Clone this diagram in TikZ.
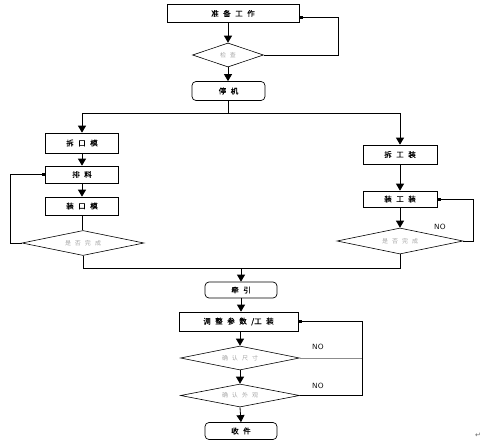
\documentclass[tikz,border=0pt]{standalone}
\usepackage{fontspec}
\newfontfamily\cjk[FakeBold=0.8]{Noto Sans CJK SC}
\newfontfamily\cjkl{Noto Sans CJK SC}
\newfontfamily\dv{DejaVu Sans}
\usetikzlibrary{shapes.geometric,arrows.meta}
\newcommand{\gp}{\hspace{4.5pt}}
\newcommand{\gq}{\hspace{4pt}}
\begin{document}
\begin{tikzpicture}[x=1pt,y=-1pt,
  box/.style={draw,line width=0.7pt,rectangle,inner sep=0pt,font=\cjk\fontsize{7.5}{8}\selectfont},
  rbox/.style={box,rounded corners=4pt},
  dec/.style={draw,line width=0.6pt,diamond,aspect=5,inner sep=0pt,text=black!35,font=\cjkl\fontsize{6}{7}\selectfont},
  flow/.style={line width=0.8pt,-{Triangle[length=7pt,width=8pt]}},
  back/.style={line width=0.8pt,-{Square[length=3pt,width=3pt]}},
  line/.style={line width=0.8pt},
  lbl/.style={font=\sffamily\fontsize{7.5}{8}\selectfont}]
\useasboundingbox (0,0) rectangle (490,447);
% nodes
\node[box,minimum width=132pt,minimum height=18pt] (prep) at (233,13.5) {准\gp 备\gp 工\gp 作};
\node[dec,minimum width=71pt,minimum height=24pt] (chk) at (228,55) {检\gq 查};
\node[rbox,minimum width=73pt,minimum height=19pt] (stop) at (228.5,91) {停\gp 机};
\coordinate (split) at (228.5,113);
\node[box,minimum width=73pt,minimum height=20pt] (rdie) at (82,143) {拆\gp 口\gp 模};
\node[box,minimum width=73pt,minimum height=17pt] (purge) at (82,174.5) {排\gp 料};
\node[box,minimum width=73pt,minimum height=18pt] (idie) at (82,206) {装\gp 口\gp 模};
\node[dec,minimum width=122pt,minimum height=25pt] (dl) at (83,243) {是\gq 否\gq 完\gq 成};
\node[box,minimum width=74pt,minimum height=19pt] (rfix) at (400,154.5) {拆\gp 工\gp 装};
\node[box,minimum width=74pt,minimum height=16pt] (ifix) at (400,199) {装\gp 工\gp 装};
\node[dec,minimum width=126pt,minimum height=26pt] (dr) at (400,241) {是\gq 否\gq 完\gq 成};
\coordinate (merge) at (241,268);
\node[rbox,minimum width=72pt,minimum height=16pt] (trac) at (241,290) {牵\gp 引};
\node[box,minimum width=119pt,minimum height=19pt] (adj) at (238.5,321.5) {调\gp 整\gp 参\gp 数\gp /工\gp 装};
\node[dec,minimum width=119pt,minimum height=24pt] (dsz) at (240,358) {确\gq 认\gq 尺\gq 寸};
\node[dec,minimum width=119pt,minimum height=23pt] (dlk) at (240,395.5) {确\gq 认\gq 外\gq 观};
\node[rbox,minimum width=72pt,minimum height=17pt] (coll) at (241,431) {收\gp 件};
% labels
\node[lbl] (no1) at (440,227) {NO};
\node[lbl] (no2) at (318,347) {NO};
\node[lbl] (no3) at (318,386) {NO};
\node[font=\dv\fontsize{7}{7}\selectfont,text=black!60] (ret) at (478,435) {↵};
% top flow
\draw[flow] (prep.south -| chk) -- (chk.north);
\draw[back] (chk.east) -| (338,17) -- (prep.east |- 0,17);
\draw[flow] (chk.south) -- (stop.north -| chk);
\draw[line] (stop.south) -- (split);
\draw[flow] (split) -| (rdie.north);
\draw[flow] (split) -| (rfix.north);
% left branch
\draw[flow] (rdie.south) -- (purge.north);
\draw[flow] (purge.south) -- (idie.north);
\draw[line] (idie.south) -- (idie.south |- dl.north);
\draw[back] (dl.west) -- (10,243) |- (purge.west);
\draw[line] (dl.south) -- (dl.south |- merge) -- (merge);
% right branch
\draw[flow] (rfix.south) -- (ifix.north);
\draw[flow] (ifix.south) -- (dr.north);
\draw[back] (dr.east) -- (473,241) |- (ifix.east);
\draw[line] (dr.south) -- (dr.south |- merge) -- (merge);
% bottom flow
\draw[flow] (merge) -- (trac.north);
\draw[flow] (trac.south) -- (adj.north -| trac);
\draw[flow] (adj.south -| dsz) -- (dsz.north);
\draw[flow] (dsz.south) -- (dlk.north);
\draw[flow] (dlk.south) -- (coll.north);
\draw[line,black!45] (dsz.east) -- (362,358);
\draw[back] (dlk.east) -- (362,395.5) |- (adj.east);
\end{tikzpicture}
\end{document}
